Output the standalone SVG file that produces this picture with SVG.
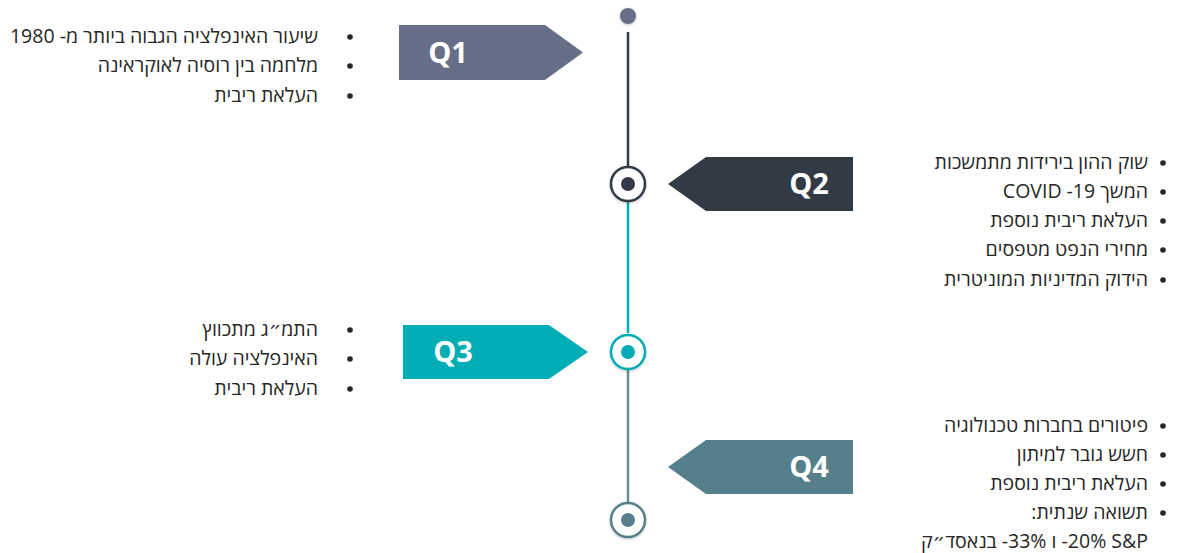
<svg xmlns="http://www.w3.org/2000/svg" width="1177" height="553" viewBox="0 0 1177 553">
  <style>
    .he { font-family: "Open Sans", "Noto Sans", "DejaVu Sans", sans-serif; font-size: 19.5px; fill: #262626; direction: rtl; unicode-bidi: embed; text-anchor: start; }
    .bul { fill: #262626; }
    .q { font-family: "Open Sans", "Liberation Sans", sans-serif; font-size: 29px; font-weight: bold; fill: #ffffff; text-anchor: middle; }
    .ring { fill: #ffffff; stroke-width: 2.5; }
  </style>
  <defs>
    <filter id="sh" x="-50%" y="-50%" width="200%" height="200%">
      <feDropShadow dx="0" dy="1" stdDeviation="1.5" flood-color="#000" flood-opacity="0.22"/>
    </filter>
  </defs>
  <rect width="1177" height="553" fill="#ffffff"/>

  <g id="connectors">
    <line x1="628" y1="32" x2="628" y2="166" stroke="#323A45" stroke-width="2.5"/>
    <line x1="628" y1="202" x2="628" y2="333" stroke="#00ADB5" stroke-width="2.5"/>
    <line x1="628" y1="370" x2="628" y2="502" stroke="#6B8C98" stroke-width="2.5"/>
  </g>

  <g id="start-dot">
    <circle cx="628" cy="16" r="8" fill="#676E87" filter="url(#sh)"/>
  </g>

  <g id="node-q2-marker">
    <circle class="ring" cx="628" cy="184" r="17" stroke="#323A45" filter="url(#sh)"/>
    <circle cx="628" cy="184" r="7" fill="#323A45"/>
  </g>
  <g id="node-q3-marker">
    <circle class="ring" cx="628" cy="352" r="17" stroke="#00ADB5" filter="url(#sh)"/>
    <circle cx="628" cy="352" r="7" fill="#00ADB5"/>
  </g>
  <g id="node-q4-marker">
    <circle class="ring" cx="628" cy="520" r="17" stroke="#567F8C" filter="url(#sh)"/>
    <circle cx="628" cy="520" r="7" fill="#567F8C"/>
  </g>

  <g id="node-q1">
    <polygon points="399,25 545,25 583,52.5 545,80 399,80" fill="#676E87"/>
    <text class="q" x="448" y="63">Q1</text>
  </g>
  <g id="node-q2">
    <polygon points="853,157 706,157 668,184 706,211 853,211" fill="#323A45"/>
    <text class="q" x="809" y="194">Q2</text>
  </g>
  <g id="node-q3">
    <polygon points="403,325 549,325 588,352 549,379 403,379" fill="#00ADB5"/>
    <text class="q" x="453" y="362">Q3</text>
  </g>
  <g id="node-q4">
    <polygon points="853,440 706,440 668,467 706,494 853,494" fill="#567F8C"/>
    <text class="q" x="809" y="477">Q4</text>
  </g>

  <g id="list-q1">
    <circle class="bul" cx="350" cy="37" r="2.8"/>
    <circle class="bul" cx="350" cy="66" r="2.8"/>
    <circle class="bul" cx="350" cy="96" r="2.8"/>
    <text class="he" x="318" y="43">שיעור האינפלציה הגבוה ביותר מ- 1980</text>
    <text class="he" x="318" y="72">מלחמה בין רוסיה לאוקראינה</text>
    <text class="he" x="318" y="102">העלאת ריבית</text>
  </g>

  <g id="list-q2">
    <circle class="bul" cx="1163" cy="163" r="2.8"/>
    <circle class="bul" cx="1163" cy="192" r="2.8"/>
    <circle class="bul" cx="1163" cy="221" r="2.8"/>
    <circle class="bul" cx="1163" cy="250" r="2.8"/>
    <circle class="bul" cx="1163" cy="280" r="2.8"/>
    <text class="he" x="1148" y="169">שוק ההון בירידות מתמשכות</text>
    <text class="he" x="1148" y="198">המשך COVID -19</text>
    <text class="he" x="1148" y="227">העלאת ריבית נוספת</text>
    <text class="he" x="1148" y="256">מחירי הנפט מטפסים</text>
    <text class="he" x="1148" y="286">הידוק המדיניות המוניטרית</text>
  </g>

  <g id="list-q3">
    <circle class="bul" cx="350" cy="330" r="2.8"/>
    <circle class="bul" cx="350" cy="359" r="2.8"/>
    <circle class="bul" cx="350" cy="389" r="2.8"/>
    <text class="he" x="318" y="336">התמ״ג מתכווץ</text>
    <text class="he" x="318" y="365">האינפלציה עולה</text>
    <text class="he" x="318" y="395">העלאת ריבית</text>
  </g>

  <g id="list-q4">
    <circle class="bul" cx="1163" cy="426" r="2.8"/>
    <circle class="bul" cx="1163" cy="455" r="2.8"/>
    <circle class="bul" cx="1163" cy="484" r="2.8"/>
    <circle class="bul" cx="1163" cy="513" r="2.8"/>
    <text class="he" x="1148" y="432">פיטורים בחברות טכנולוגיה</text>
    <text class="he" x="1148" y="461">חשש גובר למיתון</text>
    <text class="he" x="1148" y="490">העלאת ריבית נוספת</text>
    <text class="he" x="1148" y="519">תשואה שנתית:</text>
    <text class="he" x="1148" y="548">S&amp;P &#x2066;-20%&#x2069; ו &#x2066;-33%&#x2069; בנאסד״ק</text>
  </g>
</svg>
